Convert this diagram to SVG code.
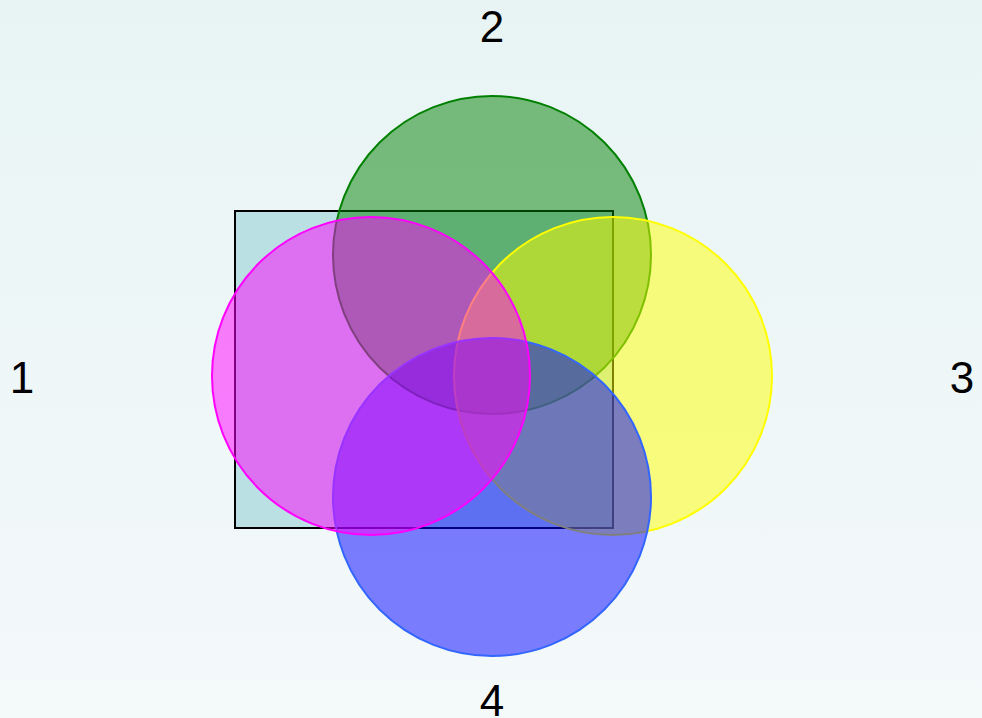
<svg xmlns="http://www.w3.org/2000/svg" width="982" height="718" viewBox="0 0 982 718">
  <defs>
    <linearGradient id="bg" x1="0" y1="0" x2="0" y2="1">
      <stop offset="0" stop-color="#e8f4f4"/>
      <stop offset="1" stop-color="#f4f9fa"/>
    </linearGradient>
  </defs>
  <style>
    .lbl { font-family: "Liberation Sans", Arial, sans-serif; font-size: 44px; fill: #000; text-anchor: middle; }
    .c { stroke-width: 2; fill-opacity: 0.5; }
  </style>
  <rect x="0" y="0" width="982" height="718" fill="url(#bg)"/>
  <g id="box">
    <rect x="235" y="211" width="378" height="317" fill="#bae0e3" stroke="#000" stroke-width="2"/>
  </g>
  <g id="set2">
    <circle class="c" cx="492" cy="255" r="159" fill="#008000" stroke="#008000"/>
  </g>
  <g id="set3">
    <circle class="c" cx="613" cy="376" r="159" fill="#ffff00" stroke="#ffff00"/>
  </g>
  <g id="set4">
    <circle class="c" cx="492" cy="497" r="159" fill="#0000ff" stroke="#3366ff"/>
  </g>
  <g id="set1">
    <circle class="c" cx="371" cy="376" r="159" fill="#ff00ff" stroke="#ff00ff"/>
  </g>
  <g id="connectors"></g>
  <g id="labels">
    <text class="lbl" x="22" y="393">1</text>
    <text class="lbl" x="492" y="42">2</text>
    <text class="lbl" x="962" y="393">3</text>
    <text class="lbl" x="492" y="716">4</text>
  </g>
</svg>
